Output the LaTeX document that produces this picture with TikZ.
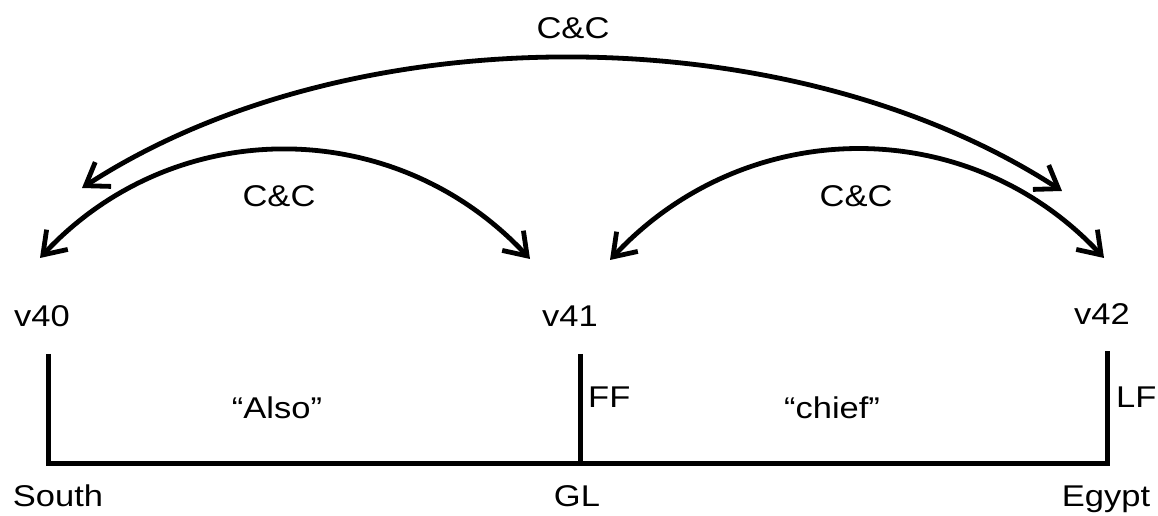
\documentclass[tikz,border=0pt]{standalone}
\usepackage{fontspec}
\setmainfont{Liberation Sans}[FakeStretch=1.15]
\usetikzlibrary{arrows.meta}
\begin{document}
\begin{tikzpicture}[x=1pt,y=1pt,
  lbl/.style={inner sep=0pt, anchor=base, font=\fontsize{30}{36}\selectfont},
  lblw/.style={lbl, anchor=base west},
  arcarrow/.style={line width=4.8pt, {Straight Barb[length=21pt,width=29pt]}-{Straight Barb[length=21pt,width=29pt]}},
  bar/.style={line width=5pt}]
\useasboundingbox (0,0) rectangle (1158,516);
% vertex labels
\node[lbl] (v40) at (42,189) {v40};
\node[lbl] (v41) at (570,189) {v41};
\node[lbl] (v42) at (1102,191) {v42};
% bottom labels
\node[lbl] (south) at (58,9) {South};
\node[lbl] (gl) at (577,9) {GL};
\node[lbl] (egypt) at (1106,9) {Egypt};
% side labels
\node[lblw] (ff) at (588,108) {FF};
\node[lblw] (lf) at (1116,108) {LF};
% segment labels
\node[lbl] (also) at (277,97) {“Also”};
\node[lbl] (chief) at (832,97) {“chief”};
% arc labels
\node[lbl] (cc1) at (279,309) {C\&C};
\node[lbl] (cc2) at (856,309) {C\&C};
\node[lbl] (cc3) at (573,477) {C\&C};
% arc ends
\coordinate (a40) at (40,258);
\coordinate (a41l) at (530,257);
\coordinate (a41r) at (610,256);
\coordinate (a42) at (1104,258);
\coordinate (b40) at (82,328);
\coordinate (b42) at (1062,325);
\draw[arcarrow] (a40) to[out=47,in=133,looseness=1.03] (a41l);
\draw[arcarrow] (a41r) to[out=47,in=133,looseness=1.03] (a42);
\draw[arcarrow] (b40) to[out=33,in=147,looseness=0.84] (b42);
% bars
\coordinate (t40) at (48,162);
\coordinate (t41) at (580,162);
\coordinate (t42) at (1107,165);
\coordinate (g40) at (48,52);
\coordinate (g41) at (580,52);
\coordinate (g42) at (1107,52);
\draw[bar] (t40) -- (g40) -- (g42) -- (t42);
\draw[bar] (t41) -- (g41);
\end{tikzpicture}
\end{document}
